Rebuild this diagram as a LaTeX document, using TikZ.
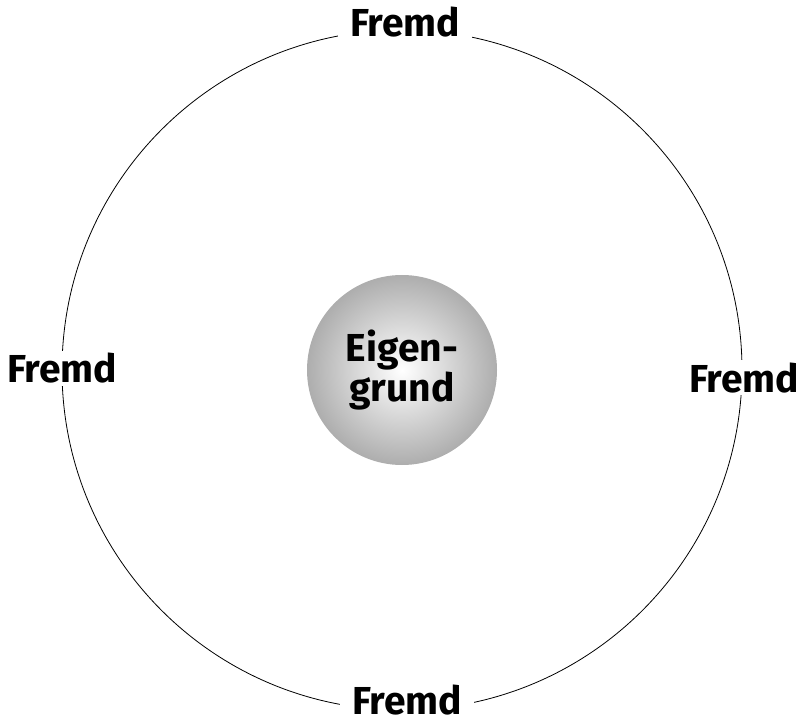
\documentclass[tikz,border=0pt]{standalone}
\usepackage{fontspec}
\setmainfont{Fira Sans}
\usepackage{xcolor}

\begin{document}
\begin{tikzpicture}[x=1pt,y=1pt,
      fremd/.style={fill=white,inner xsep=12pt,inner ysep=2pt,anchor=base,
        font=\fontsize{39}{42}\selectfont\bfseries},
      kern/.style={circle,minimum size=190pt,inner sep=0pt,align=center,
        inner color=white,outer color=black!32,
        font=\fontsize{39}{34}\selectfont\bfseries},
      ring/.style={draw,line width=0.8pt}]
    \useasboundingbox (0,0) rectangle (802,726);
    \draw[ring] (402,356) circle[radius=340];
    \node[fremd] (oben) at (405,689) {Fremd};
    \node[fremd] (links) at (62,343) {Fremd};
    \node[fremd] (rechts) at (744,334) {Fremd};
    \node[fremd] (unten) at (407,12) {Fremd};
    \node[kern] (eigen) at (402,356) {Eigen-\\grund};
  \end{tikzpicture}
\end{document}
